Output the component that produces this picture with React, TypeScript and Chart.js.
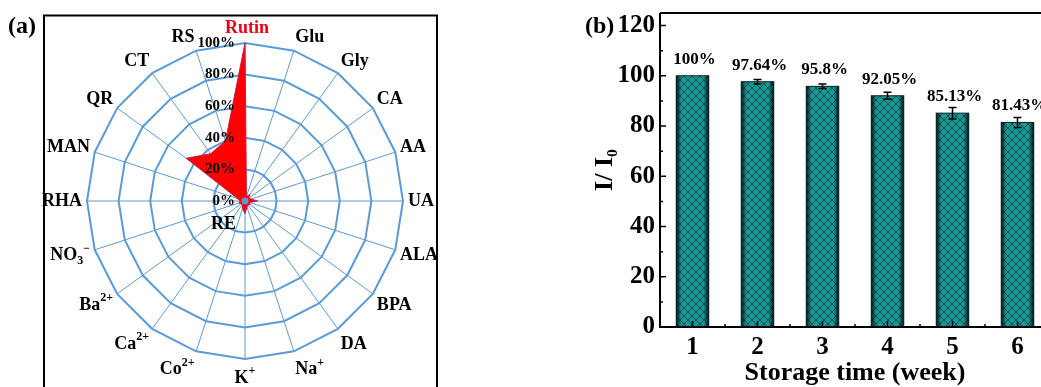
import React, { useEffect, useRef } from 'react';
import { Chart, registerables } from 'chart.js';

Chart.register(...registerables);
Chart.defaults.font.family = '"Liberation Serif", "DejaVu Serif", serif';

// ---------- data: panel (a) radar ----------
const radarCategories = ['Rutin', 'Glu', 'Gly', 'CA', 'AA', 'UA', 'ALA', 'BPA', 'DA', 'Na⁺', 'K⁺', 'Co²⁺', 'Ca²⁺', 'Ba²⁺', 'NO₃⁻', 'RHA', 'MAN', 'QR', 'CT', 'RS'];
const radarValues = [100, 3, 5, 3, 4, 8, 3, 4, 3, 4, 8, 5, 3, 3, 4, 3, 5, 46, 37, 40];
const radarTicks = [0, 20, 40, 60, 80, 100];
const radarTickLabels = ['0%', '20%', '40%', '60%', '80%', '100%'];

// ---------- data: panel (b) bars ----------
const weeks = [1, 2, 3, 4, 5, 6];
const retention = [100, 97.64, 95.8, 92.05, 85.13, 81.43];
const retentionErr = [0, 0.9, 0.9, 1.4, 2.3, 2.0];
const retentionLabels = ['100%', '97.64%', '95.8%', '92.05%', '85.13%', '81.43%'];
const yTickValues = [0, 20, 40, 60, 80, 100, 120];

const FONT = '"Liberation Serif", "DejaVu Serif", serif';
const GRID_BLUE = '#5B9BD5';

const SUP: Record<string, string> = { '²': '2', '⁺': '+', '⁻': '−' };
const SUB: Record<string, string> = { '₃': '3', '₀': '0' };

function splitRuns(s: string) {
  const out: { k: string; t: string }[] = [];
  for (const ch of s) {
    const k = SUP[ch] ? 'sup' : SUB[ch] ? 'sub' : 'n';
    const c = SUP[ch] || SUB[ch] || ch;
    if (out.length && out[out.length - 1].k === k) out[out.length - 1].t += c;
    else out.push({ k, t: c });
  }
  return out;
}

function drawRich(ctx: CanvasRenderingContext2D, s: string, x: number, y: number, align: string, size: number, color: string) {
  const runs = splitRuns(s);
  const fN = `bold ${size}px ${FONT}`;
  const fS = `bold ${Math.round(size * 0.68)}px ${FONT}`;
  let w = 0;
  runs.forEach((r) => {
    ctx.font = r.k === 'n' ? fN : fS;
    w += ctx.measureText(r.t).width;
  });
  let sx = align === 'left' ? x : align === 'right' ? x - w : x - w / 2;
  ctx.textAlign = 'left';
  ctx.textBaseline = 'middle';
  ctx.fillStyle = color;
  runs.forEach((r) => {
    ctx.font = r.k === 'n' ? fN : fS;
    const dy = r.k === 'sup' ? -size * 0.38 : r.k === 'sub' ? size * 0.3 : 0;
    ctx.fillText(r.t, sx, y + dy);
    sx += ctx.measureText(r.t).width;
  });
}

const radarDecor = {
  id: 'radarDecor',
  afterDatasetsDraw(chart: any) {
    const ctx: CanvasRenderingContext2D = chart.ctx;
    const s = chart.scales.r;
    const xc = s.xCenter;
    const yc = s.yCenter;
    ctx.save();
    // center marker
    ctx.fillStyle = GRID_BLUE;
    ctx.beginPath();
    ctx.arc(xc, yc, 3.5, 0, Math.PI * 2);
    ctx.fill();
    // tick labels
    ctx.font = `bold 15px ${FONT}`;
    ctx.textAlign = 'right';
    ctx.textBaseline = 'middle';
    ctx.fillStyle = '#000';
    radarTicks.forEach((v, i) => {
      const d = s.getDistanceFromCenterForValue(v);
      ctx.fillText(radarTickLabels[i], xc - 10, yc - d);
    });
    ctx.font = `bold 18px ${FONT}`;
    ctx.fillText('RE', xc - 9, yc + 23);
    // point labels
    radarCategories.forEach((lab, i) => {
      const a = s.getIndexAngle(i);
      const deg = Math.round((a * 180) / Math.PI) % 360;
      const p = s.getPointPosition(i, s.drawingArea + 5);
      const c = Math.cos(a);
      const yOff = c >= 0 ? -9.6 * c : -14 * c;
      const align = deg === 0 || deg === 180 ? 'center' : deg < 180 ? 'left' : 'right';
      drawRich(ctx, lab, p.x + (deg === 0 ? 2 : 0), p.y + yOff, align, 18, i === 0 ? '#E60012' : '#000');
    });
    ctx.restore();
  },
  afterDraw(chart: any) {
    const ctx: CanvasRenderingContext2D = chart.ctx;
    ctx.save();
    ctx.strokeStyle = '#000';
    ctx.lineWidth = 2;
    ctx.strokeRect(44, 15.5, 393, 420);
    ctx.font = `bold 24px ${FONT}`;
    ctx.textAlign = 'left';
    ctx.textBaseline = 'alphabetic';
    ctx.fillStyle = '#000';
    ctx.fillText('(a)', 8, 33);
    ctx.restore();
  },
};

const barDecor = {
  id: 'barDecor',
  afterDatasetsDraw(chart: any) {
    const ctx: CanvasRenderingContext2D = chart.ctx;
    const meta = chart.getDatasetMeta(0);
    const ys = chart.scales.y;
    ctx.save();
    meta.data.forEach((bar: any, i: number) => {
      const { x, y, base, width } = bar.getProps(['x', 'y', 'base', 'width'], true);
      const l = x - width / 2;
      const g = ctx.createLinearGradient(l, 0, l + width, 0);
      g.addColorStop(0, 'rgba(0,0,0,0.85)');
      g.addColorStop(0.16, 'rgba(0,0,0,0)');
      g.addColorStop(0.84, 'rgba(0,0,0,0)');
      g.addColorStop(1, 'rgba(0,0,0,0.85)');
      ctx.fillStyle = g;
      ctx.fillRect(l, y, width, base - y);
      ctx.strokeStyle = '#0b1d1d';
      ctx.lineWidth = 1;
      ctx.strokeRect(l, y, width, base - y);
      // error bar
      const e = retentionErr[i];
      if (e > 0) {
        const y1 = ys.getPixelForValue(retention[i] + e);
        const y2 = ys.getPixelForValue(retention[i] - e);
        ctx.strokeStyle = '#000';
        ctx.lineWidth = 1.5;
        ctx.beginPath();
        ctx.moveTo(x, y1);
        ctx.lineTo(x, y2);
        ctx.moveTo(x - 4, y1);
        ctx.lineTo(x + 4, y1);
        ctx.moveTo(x - 4, y2);
        ctx.lineTo(x + 4, y2);
        ctx.stroke();
      }
      // value label
      ctx.font = `bold 17px ${FONT}`;
      ctx.textAlign = 'center';
      ctx.textBaseline = 'alphabetic';
      ctx.fillStyle = '#000';
      ctx.fillText(retentionLabels[i], x + 2, y - 12);
    });
    ctx.restore();
  },
  afterDraw(chart: any) {
    const ctx: CanvasRenderingContext2D = chart.ctx;
    const { left, right, top, bottom } = chart.chartArea;
    const xs = chart.scales.x;
    const ys = chart.scales.y;
    ctx.save();
    ctx.strokeStyle = '#000';
    ctx.lineWidth = 2;
    ctx.beginPath();
    ctx.moveTo(left, top);
    ctx.lineTo(chart.width, top);
    ctx.moveTo(left, top);
    ctx.lineTo(left, bottom);
    ctx.lineTo(right, bottom);
    ctx.moveTo(right, top);
    ctx.lineTo(right, bottom);
    ctx.stroke();
    ctx.lineWidth = 1.5;
    ctx.beginPath();
    for (let v = 0; v <= 120; v += 10) {
      const py = ys.getPixelForValue(v);
      const len = v % 20 === 0 ? 6 : 3;
      ctx.moveTo(left, py);
      ctx.lineTo(left + len, py);
    }
    for (let v = 1; v <= 6.5; v += 0.5) {
      const px = xs.getPixelForValue(v);
      const len = Number.isInteger(v) ? 6 : 3;
      ctx.moveTo(px, bottom);
      ctx.lineTo(px, bottom - len);
    }
    ctx.stroke();
    ctx.font = `bold 24px ${FONT}`;
    ctx.textAlign = 'left';
    ctx.textBaseline = 'alphabetic';
    ctx.fillStyle = '#000';
    ctx.fillText('(b)', 25, 33);
    ctx.restore();
  },
};

function makePattern(): CanvasPattern | string {
  const c = document.createElement('canvas');
  c.width = 8;
  c.height = 8;
  const g = c.getContext('2d');
  if (!g) return '#17908e';
  g.fillStyle = '#1a9896';
  g.fillRect(0, 0, 8, 8);
  g.strokeStyle = 'rgba(6,50,55,0.7)';
  g.lineWidth = 1;
  g.beginPath();
  g.moveTo(-1, -1);
  g.lineTo(9, 9);
  g.moveTo(9, -1);
  g.lineTo(-1, 9);
  g.stroke();
  return g.createPattern(c, 'repeat') || '#17908e';
}

export default function App() {
  const radarRef = useRef<HTMLCanvasElement>(null);
  const barRef = useRef<HTMLCanvasElement>(null);

  useEffect(() => {
    const radar = new Chart(radarRef.current as HTMLCanvasElement, {
      type: 'radar',
      data: {
        labels: radarCategories,
        datasets: [
          {
            data: radarValues,
            backgroundColor: 'rgb(255,0,0)',
            borderColor: 'rgb(200,30,70)',
            borderWidth: 1,
            pointRadius: 0,
            fill: true,
          },
        ],
      },
      options: {
        responsive: false,
        animation: false,
        layout: { padding: { left: 87, right: 117, top: 43, bottom: 41 } },
        plugins: { legend: { display: false }, tooltip: { enabled: false } },
        scales: {
          r: {
            min: 0,
            max: 100,
            ticks: { display: false, stepSize: 20 },
            grid: { color: GRID_BLUE, lineWidth: 2, circular: false },
            angleLines: { color: GRID_BLUE, lineWidth: 1 },
            pointLabels: { display: false },
          },
        },
      },
      plugins: [radarDecor],
    } as any);

    const bars = new Chart(barRef.current as HTMLCanvasElement, {
      type: 'bar',
      data: {
        datasets: [
          {
            data: weeks.map((w, i) => ({ x: w, y: retention[i] })),
            backgroundColor: makePattern(),
            borderWidth: 0,
            barPercentage: 0.5,
            categoryPercentage: 1,
          },
        ],
      },
      options: {
        responsive: false,
        animation: false,
        layout: { padding: { left: 30, right: 30, top: 13, bottom: 0 } },
        plugins: { legend: { display: false }, tooltip: { enabled: false } },
        scales: {
          x: {
            type: 'linear',
            min: 0.5,
            max: 6.5,
            offset: false,
            grid: { display: false, drawTicks: false, offset: false },
            border: { display: false },
            afterBuildTicks: (s: any) => {
              s.ticks = weeks.map((w) => ({ value: w }));
            },
            afterFit: (s: any) => {
              s.height = 60;
              s.paddingLeft = 0;
              s.paddingRight = 0;
            },
            ticks: {
              color: '#000',
              padding: 6,
              font: { size: 25, weight: 'bold' },
              callback: (v: any) => String(v),
            },
            title: {
              display: true,
              text: 'Storage time (week)',
              color: '#000',
              font: { size: 26, weight: 'bold' },
              padding: { top: 0, bottom: -2 },
            },
          },
          y: {
            min: 0,
            max: 125,
            grid: { display: false, drawTicks: false },
            border: { display: false },
            afterBuildTicks: (s: any) => {
              s.ticks = yTickValues.map((v) => ({ value: v }));
            },
            afterFit: (s: any) => {
              s.width = 70;
              s.paddingTop = 0;
              s.paddingBottom = 0;
            },
            ticks: {
              color: '#000',
              padding: 5,
              font: { size: 25, weight: 'bold' },
            },
            title: {
              display: true,
              text: 'I/ I₀',
              color: '#000',
              font: { size: 26, weight: 'bold' },
              padding: { top: 0, bottom: 0 },
            },
          },
        },
      },
      plugins: [barDecor],
    } as any);

    return () => {
      radar.destroy();
      bars.destroy();
    };
  }, []);

  return (
    <div style={{ position: 'fixed', left: 0, top: 0, width: 1041, height: 387, overflow: 'hidden', background: '#fff' }}>
      <div style={{ position: 'absolute', left: 0, top: 0, width: 520, height: 400 }}>
        <canvas ref={radarRef} width={520} height={400} style={{ width: 520, height: 400, display: 'block' }} />
      </div>
      <div style={{ position: 'absolute', left: 560, top: 0, width: 520, height: 387 }}>
        <canvas ref={barRef} width={520} height={387} style={{ width: 520, height: 387, display: 'block' }} />
      </div>
    </div>
  );
}
